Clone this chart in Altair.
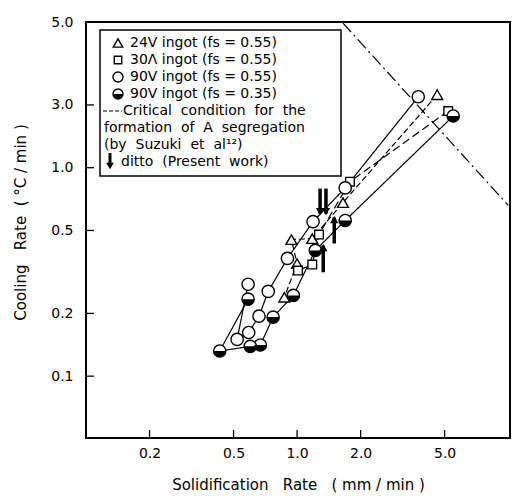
import altair as alt
import pandas as pd

# ---- data ----
tri_x = [4.61, 1.65, 1.18, 0.94, 1.00, 0.87]
tri_y = [2.24, 0.68, 0.457, 0.452, 0.347, 0.239]
sq_x = [5.20, 1.78, 1.27, 1.18, 1.01]
sq_y = [1.87, 0.857, 0.478, 0.343, 0.321]
oc_x = [3.75, 1.69, 1.19, 0.90, 0.73, 0.66, 0.59, 0.52, 0.586]
oc_y = [2.19, 0.80, 0.551, 0.367, 0.255, 0.194, 0.162, 0.150, 0.276]
hc_x = [5.49, 1.69, 1.22, 0.96, 0.77, 0.67, 0.60, 0.43, 0.586]
hc_y = [1.77, 0.558, 0.401, 0.244, 0.192, 0.141, 0.139, 0.132, 0.234]

crit_x = [1.65, 10.0]
crit_y = [4.94, 0.66]

arrow_x = [1.285, 1.37, 1.50, 1.33]
arrow_y0 = [0.794, 0.794, 0.433, 0.315]
arrow_y1 = [0.602, 0.602, 0.576, 0.423]
arrow_dir = ["down", "down", "up", "up"]

x_ticks = [0.2, 0.5, 1.0, 2.0, 5.0]
y_ticks = [0.1, 0.2, 0.5, 1.0, 2.0, 5.0]

NB = "\u00a0"
legend_rows = [
    "24V ingot (fs = 0.55)",
    "30Λ ingot (fs = 0.55)",
    "90V ingot (fs = 0.55)",
    "90V ingot (fs = 0.35)",
]
legend_lines = [
    f"Critical{NB} condition{NB} for{NB} the",
    f"formation{NB} of{NB} A{NB} segregation",
    f"(by{NB} Suzuki{NB} et{NB} al¹²)",
]
legend_ditto = f"ditto{NB} (Present{NB} work)"
x_title = f"Solidification{NB}{NB} Rate{NB}{NB} ({NB}mm{NB}/{NB}min{NB})"
y_title = f"Cooling{NB}{NB} Rate{NB} ({NB}°C{NB}/{NB}min{NB})"

FONT = "DejaVu Sans"
W, H = 424, 416

# ---- tables ----
rows = []
for name, xs, ys in [("tri", tri_x, tri_y), ("sq", sq_x, sq_y), ("oc", oc_x, oc_y), ("hc", hc_x, hc_y)]:
    for i, (a, b) in enumerate(zip(xs, ys)):
        rows.append({"series": name, "seq": i, "x": a, "y": b})
df = pd.DataFrame(rows)
crit = pd.DataFrame({"x": crit_x, "y": crit_y})
arrows = pd.DataFrame({"x": arrow_x, "y0": arrow_y0, "y1": arrow_y1, "dir": arrow_dir})
xt = pd.DataFrame({"x": x_ticks})
yt = pd.DataFrame({"y": y_ticks})
one = pd.DataFrame({"a": [0]})

xscale = alt.Scale(type="log", domain=[0.1, 10.2])
yscale = alt.Scale(type="log", domain=[0.0505, 5.0])
xaxis = alt.Axis(values=x_ticks, labelExpr="format(datum.value, '.1f')",
                 title=x_title, ticks=False, domain=False,
                 grid=False, labelPadding=8, titleX=W / 2, titleY=46, titleBaseline="middle",
                 labelFontSize=14, titleFontSize=15)
yaxis = alt.Axis(values=y_ticks,
                 labelExpr="datum.value == 2 ? '3.0' : format(datum.value, '.1f')",
                 title=y_title, ticks=False, domain=False, grid=False,
                 labelPadding=13, titleX=-66, titleY=200, titleBaseline="middle",
                 labelFontSize=14, titleFontSize=15)


def X(f="x"):
    return alt.X(f"{f}:Q", scale=xscale, axis=xaxis)


def Y(f="y"):
    return alt.Y(f"{f}:Q", scale=yscale, axis=yaxis)


layers = []

# connecting lines
layers.append(
    alt.Chart(df).mark_line(color="black", strokeWidth=1.2).encode(
        x=X(), y=Y(), detail="series:N", order="seq:Q",
        strokeDash=alt.StrokeDash("series:N", scale=alt.Scale(
            domain=["tri", "sq", "oc", "hc"], range=[[6, 3], [8, 4], [1, 0], [1, 0]]), legend=None),
    )
)
# critical line
layers.append(
    alt.Chart(crit).mark_line(color="black", strokeWidth=1.2, strokeDash=[12, 4, 2, 4], clip=True)
    .encode(x=X(), y=Y())
)
# inward ticks
layers.append(alt.Chart(xt).mark_rule(color="black", strokeWidth=1.3).encode(
    x=X(), y=alt.value(H), y2=alt.value(H - 8)))
layers.append(alt.Chart(yt).mark_rule(color="black", strokeWidth=1.3).encode(
    y=Y(), x=alt.value(0), x2=alt.value(8)))

# markers
pt = dict(filled=True, fill="white", stroke="black", strokeWidth=1.4, opacity=1)
layers.append(alt.Chart(df[df.series == "tri"]).mark_point(shape="triangle-up", size=120, **pt).encode(x=X(), y=Y()))
layers.append(alt.Chart(df[df.series == "sq"]).mark_point(shape="square", size=75, **pt).encode(x=X(), y=Y()))
layers.append(alt.Chart(df[df.series == "oc"]).mark_point(shape="circle", size=150, **pt).encode(x=X(), y=Y()))
layers.append(alt.Chart(df[df.series == "hc"]).mark_point(shape="circle", size=150, **pt).encode(x=X(), y=Y()))
HALF = "M-1,0A1,1,0,0,0,1,0Z"
layers.append(alt.Chart(df[df.series == "hc"]).mark_point(shape=HALF, size=150, filled=True, color="black", opacity=1)
              .encode(x=X(), y=Y()))

# bold arrows
layers.append(alt.Chart(arrows).mark_rule(color="black", strokeWidth=3.5).encode(x=X(), y=Y("y0"), y2="y1:Q"))
layers.append(alt.Chart(arrows[arrows.dir == "down"]).mark_point(
    shape="triangle-down", size=70, filled=True, color="black", opacity=1, yOffset=-2).encode(x=X(), y=Y("y1")))
layers.append(alt.Chart(arrows[arrows.dir == "up"]).mark_point(
    shape="triangle-up", size=70, filled=True, color="black", opacity=1, yOffset=2).encode(x=X(), y=Y("y1")))

# ---- legend box (drawn as decoration) ----
layers.append(alt.Chart(one).mark_rect(fill="white", stroke="black", strokeWidth=1.5).encode(
    x=alt.value(14), x2=alt.value(255), y=alt.value(8), y2=alt.value(154)))
row_y = [21, 38, 55, 72]
shapes = ["triangle-up", "square", "circle", "circle"]
sizes = [90, 55, 100, 100]
TXT = dict(align="left", baseline="middle", font=FONT, fontSize=14, color="black")
for ty, shp, sz, txt in zip(row_y, shapes, sizes, legend_rows):
    layers.append(alt.Chart(one).mark_point(shape=shp, size=sz, **pt).encode(x=alt.value(32), y=alt.value(ty)))
    layers.append(alt.Chart(one).mark_text(**TXT)
                  .encode(x=alt.value(44), y=alt.value(ty), text=alt.value(txt)))
layers.append(alt.Chart(one).mark_point(shape=HALF, size=100, filled=True, color="black", opacity=1)
              .encode(x=alt.value(32), y=alt.value(72)))
layers.append(alt.Chart(one).mark_rule(color="black", strokeWidth=1.2, strokeDash=[4, 2]).encode(
    x=alt.value(17), x2=alt.value(36), y=alt.value(89)))
for ty, tx, txt in zip([89, 106, 123], [37, 18, 18], legend_lines):
    layers.append(alt.Chart(one).mark_text(**TXT)
                  .encode(x=alt.value(tx), y=alt.value(ty), text=alt.value(txt)))
layers.append(alt.Chart(one).mark_rule(color="black", strokeWidth=3).encode(
    x=alt.value(24), y=alt.value(131), y2=alt.value(143)))
layers.append(alt.Chart(one).mark_point(shape="triangle-down", size=60, filled=True, color="black", opacity=1)
              .encode(x=alt.value(24), y=alt.value(144)))
layers.append(alt.Chart(one).mark_text(**TXT)
              .encode(x=alt.value(35), y=alt.value(140), text=alt.value(legend_ditto)))

chart = alt.layer(*layers).properties(
    width=W, height=H, autosize="none",
    padding={"left": 86, "top": 22, "right": 2, "bottom": 61},
    background="white",
).configure_view(stroke="black", strokeWidth=2).configure_axis(
    labelFont=FONT, titleFont=FONT, labelColor="black", titleColor="black", titleFontWeight="normal"
)

chart.save("out.html", embed_options={"renderer": "svg", "actions": False})
